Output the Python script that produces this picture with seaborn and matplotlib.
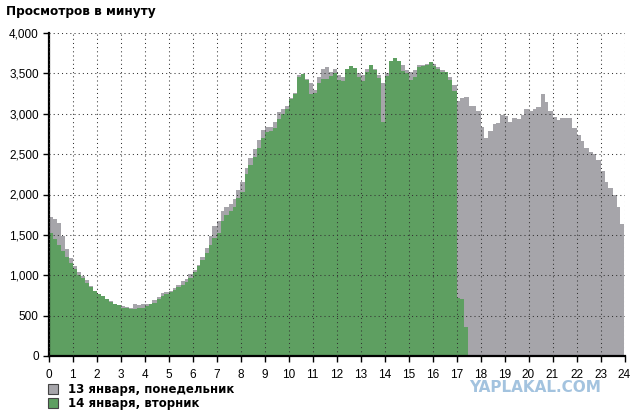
import numpy as np
import pandas as pd
import matplotlib
matplotlib.use("Agg")
import matplotlib.pyplot as plt
from matplotlib.patches import Patch
from matplotlib.ticker import FuncFormatter
import seaborn as sns

# ---- data: views per minute, 10-minute steps ----
step_hours = 1 / 6
mon_label = "13 января, понедельник"
tue_label = "14 января, вторник"
title = "Просмотров в минуту"
watermark = "YAPLAKAL.COM"
hour_ticks = list(range(0, 25))
value_ticks = list(range(0, 4001, 500))

monday = [
    1720, 1700, 1650, 1480, 1330, 1210,
    1110, 1040, 990, 940, 870, 800,
    760, 730, 710, 680, 650, 630,
    620, 610, 590, 650, 630, 650,
    640, 650, 690, 730, 780, 790,
    810, 840, 880, 930, 950, 1010,
    1070, 1130, 1220, 1340, 1480, 1610,
    1670, 1800, 1850, 1880, 1950, 2060,
    2150, 2330, 2450, 2560, 2670, 2800,
    2830, 2840, 2900, 3020, 3060, 3100,
    3190, 3260, 3480, 3490, 3430, 3380,
    3300, 3450, 3560, 3580, 3520, 3560,
    3480, 3450, 3560, 3590, 3570, 3500,
    3480, 3560, 3600, 3550, 3480, 3380,
    3500, 3620, 3660, 3650, 3600, 3540,
    3520, 3540, 3600, 3600, 3610, 3630,
    3620, 3580, 3540, 3520, 3460, 3350,
    3160, 3200, 3210, 3100, 3090, 3040,
    2840, 2700, 2790, 2870, 2880, 2990,
    2970, 2900, 2950, 2940, 2990, 3060,
    3030, 3060, 3080, 3240, 3150, 3040,
    2960, 2920, 2950, 2950, 2950, 2820,
    2740, 2660, 2580, 2530, 2500, 2430,
    2290, 2160, 2080, 2000, 1840, 1640,
]

tuesday = [
    1520, 1450, 1380, 1300, 1220, 1150,
    1080, 1000, 960, 910, 850, 800,
    770, 740, 710, 670, 650, 630,
    600, 590, 580, 580, 590, 600,
    620, 640, 660, 700, 740, 770,
    790, 820, 850, 880, 920, 960,
    1040, 1110, 1190, 1270, 1380, 1460,
    1520, 1670, 1750, 1790, 1850, 1960,
    2030, 2250, 2360, 2460, 2580, 2700,
    2770, 2790, 2820, 2940, 3000, 3060,
    3180, 3240, 3460, 3490, 3420, 3250,
    3260, 3380, 3430, 3430, 3470, 3510,
    3420, 3400, 3560, 3590, 3570, 3450,
    3400, 3520, 3600, 3540, 3440, 2900,
    3470, 3650, 3690, 3650, 3530, 3510,
    3420, 3450, 3580, 3590, 3600, 3640,
    3590, 3550, 3520, 3520, 3420, 3280,
    720, 700, 360,
]

GRAY = "#a6a5aa"
GREEN = "#5e9f61"

sns.set_theme(style="white")
plt.rcParams["font.family"] = ["Liberation Sans", "DejaVu Sans"]
plt.rcParams["text.color"] = "black"

fig = plt.figure(figsize=(6.3, 4.17), dpi=100)
ax = fig.add_axes([48.5 / 630, 1 - 356 / 417, 576 / 630, 323 / 417])


def draw(series, color):
    n = len(series)
    centers = (np.arange(n) + 0.5) * step_hours
    df = pd.DataFrame({"hour": centers, "views": series})
    sns.histplot(data=df, x="hour", weights="views", bins=n,
                 binrange=(0, n * step_hours),
                 element="step", fill=True, color=color, alpha=1,
                 linewidth=0, ax=ax)


draw(monday, GRAY)
draw(tuesday, GREEN)

ax.set_xlim(0, 24)
ax.set_ylim(0, 4000)
ax.set_xticks(hour_ticks)
ax.set_yticks(value_ticks)
ax.yaxis.set_major_formatter(FuncFormatter(lambda v, p: f"{v:,.0f}"))
ax.set_xlabel("")
ax.set_ylabel("")

ax.grid(True, color="#333333", linestyle=(0, (1, 3)), linewidth=0.75)
ax.set_axisbelow(False)

for s in ("top", "right"):
    ax.spines[s].set_visible(False)
for s in ("left", "bottom"):
    ax.spines[s].set_color("black")
    ax.spines[s].set_linewidth(1.6)

ax.tick_params(axis="both", which="major", direction="out", length=4,
               width=1, color="black", labelsize=8.5, labelcolor="black",
               left=True, bottom=True)
ax.tick_params(axis="x", pad=5)
ax.tick_params(axis="y", pad=3)

fig.text(6 / 630, 1 - 12 / 417, title, fontsize=8.7, fontweight="bold",
         family="DejaVu Sans", ha="left", va="center", color="black")

handles = [
    Patch(facecolor=GRAY, edgecolor="#444444", linewidth=0.8, label=mon_label),
    Patch(facecolor=GREEN, edgecolor="#444444", linewidth=0.8, label=tue_label),
]
leg = fig.legend(handles=handles, loc="upper left",
                 bbox_to_anchor=(48 / 630, 1 - 383 / 417), frameon=False,
                 prop={"family": "DejaVu Sans", "weight": "bold", "size": 8.5},
                 handlelength=0.85, handleheight=0.85, handletextpad=0.85,
                 labelspacing=0.1, borderpad=0, borderaxespad=0)
for t in leg.get_texts():
    t.set_color("black")

fig.text(535 / 630, 1 - 387 / 417, watermark, color="#a3c3df", fontsize=11,
         fontweight="heavy", family="DejaVu Sans", ha="center", va="center")

fig.savefig("out.png", dpi=100)
